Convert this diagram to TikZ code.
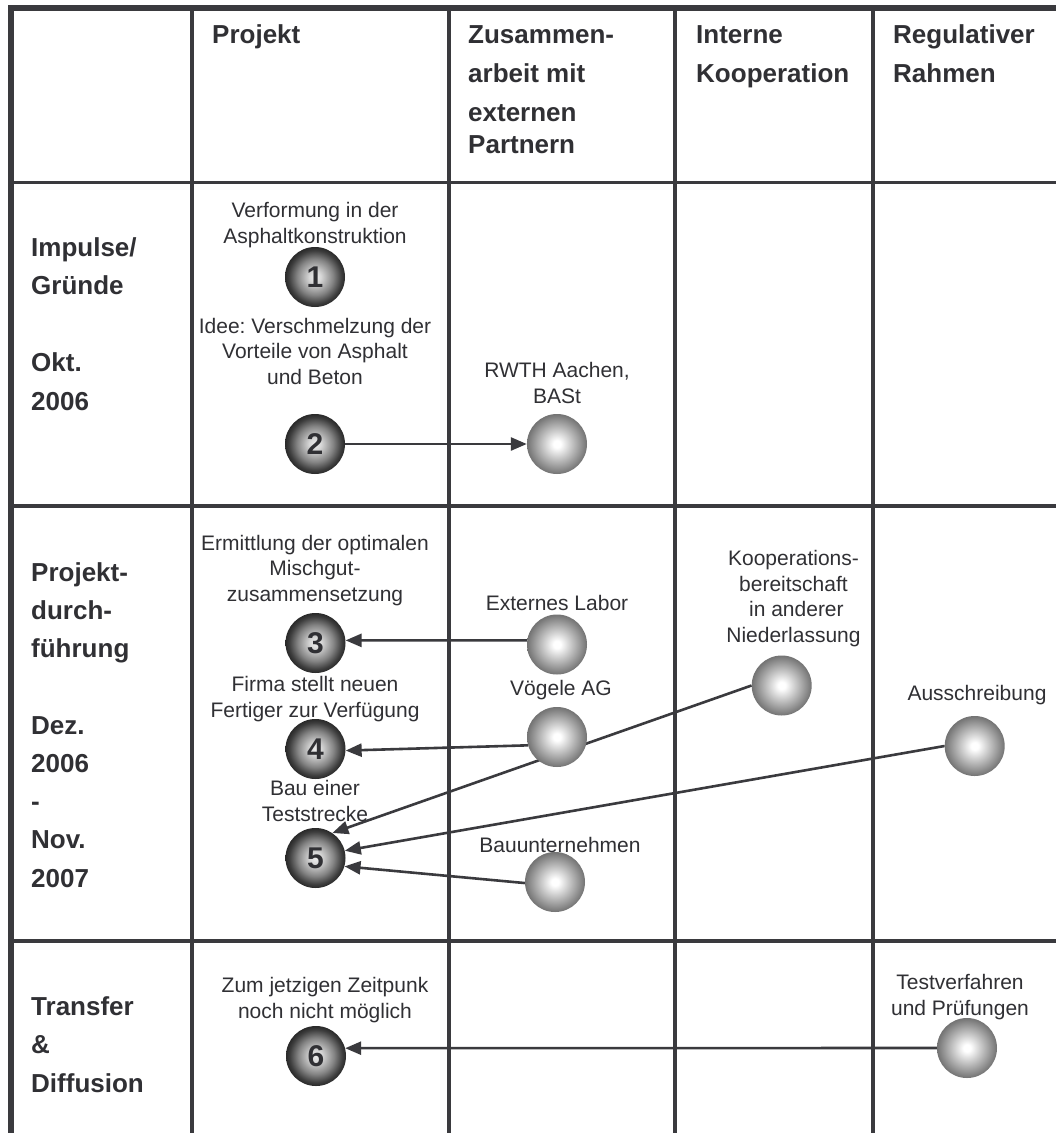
\documentclass[tikz,border=0pt]{standalone}
\usepackage{fontspec}
\setmainfont{Liberation Sans}
\frenchspacing
\usetikzlibrary{arrows.meta}
\definecolor{ink}{RGB}{58,58,62}
\definecolor{txt}{RGB}{48,48,52}
% shaded spheres: dark numbered steps and light actor balls (rim at 25bp)
\pgfdeclareradialshading{darkball}{\pgfpoint{0bp}{0bp}}{color(0bp)=(black!7); color(5bp)=(black!16); color(15bp)=(black!48); color(22bp)=(black!76); color(25bp)=(black!84); color(50bp)=(black!84)}
\pgfdeclareradialshading{lightball}{\pgfpoint{0bp}{0bp}}{color(0bp)=(white); color(3bp)=(white); color(25bp)=(black!55); color(50bp)=(black!55)}
\pgfdeclarelayer{under}
\pgfsetlayers{under,main}
\begin{document}
\begin{tikzpicture}[x=1pt,y=-1pt,
  frame/.style={draw=ink, line width=6pt, line join=miter},
  grid/.style={draw=ink, line width=3.2pt},
  hdr/.style={font=\fontsize{26}{39}\selectfont\bfseries, text=txt, align=left, inner sep=0pt, anchor=base west},
  rowlab/.style={font=\fontsize{26}{38.5}\selectfont\bfseries, text=txt, align=left, inner sep=0pt, anchor=base west},
  lbl/.style={font=\fontsize{21}{25.5}\selectfont, text=txt, align=center, inner sep=0pt, anchor=base},
  numball/.style={circle, minimum size=60pt, inner sep=0pt, shade, shading=darkball, font=\fontsize{30}{30}\selectfont\bfseries, text=txt},
  ball/.style={circle, minimum size=60pt, inner sep=0pt, shade, shading=lightball},
  link/.style={draw=ink, line width=2.6pt, -{Triangle[length=16pt,width=13pt]}}]

\useasboundingbox (0,0) rectangle (1056,1133);

% table frame and grid
\begin{pgfonlayer}{under}
  \fill[white] (0,0) rectangle (1056,1133);
  \draw[frame] (11,1133) -- (11,8) -- (1056,8);
  \foreach \gx in {192,449,675,873} \draw[grid] (\gx,8) -- (\gx,1133);
  \foreach \gy in {182.5,506,941} \draw[grid] (11,\gy) -- (1056,\gy);
\end{pgfonlayer}

% column headers (positions give the baseline of the last line)
\node[hdr] (hproj) at (212,43) {Projekt};
\node[hdr] (hext) at (468,153) {Zusammen-\\arbeit mit\\externen\\[-7pt]Partnern};
\node[hdr] (hint) at (696,82) {Interne\\Kooperation};
\node[hdr] (hreg) at (893,82) {Regulativer\\Rahmen};

% row headers
\node[rowlab] (rimp) at (31,410) {Impulse/\\Gründe\\[38.5pt]Okt.\\2006};
\node[rowlab, font=\fontsize{26}{38.2}\selectfont\bfseries] (rdur) at (31,887) {Projekt-\\durch-\\führung\\[38.2pt]Dez.\\2006\\-\\Nov.\\2007};
\node[rowlab] (rtra) at (31,1092) {Transfer\\\&\\Diffusion};

% step texts
\node[lbl] (t1) at (315,243) {Verformung in der\\Asphaltkonstruktion};
\node[lbl] (t2) at (315,384) {Idee: Verschmelzung der\\Vorteile von Asphalt\\und Beton};
\node[lbl] (t3) at (557,403) {RWTH Aachen,\\BASt};
\node[lbl] (t4) at (315,601) {Ermittlung der optimalen\\Mischgut-\\zusammensetzung};
\node[lbl] (t5) at (557,610) {Externes Labor};
\node[lbl] (t6) at (315,717) {Firma stellt neuen\\Fertiger zur Verfügung};
\node[lbl] (t7) at (561,695) {Vögele AG};
\node[lbl] (t8) at (315,821) {Bau einer\\Teststrecke};
\node[lbl] (t9) at (560,852) {Bauunternehmen};
\node[lbl] (t10) at (793.5,642) {Kooperations-\\bereitschaft\\\ in anderer\\Niederlassung};
\node[lbl] (t11) at (977,700) {Ausschreibung};
\node[lbl] (t12) at (325,1018) {Zum jetzigen Zeitpunk\\noch nicht möglich};
\node[lbl] (t13) at (960,1015) {Testverfahren\\und Prüfungen};

% numbered steps
\node[numball] (n1) at (315,277) {1};
\node[numball] (n2) at (315,444) {2};
\node[numball] (n3) at (315.5,643) {3};
\node[numball] (n4) at (315.5,749) {4};
\node[numball] (n5) at (315.5,858) {5};
\node[numball] (n6) at (316,1056) {6};

% actors
\node[ball] (rwth) at (557,444) {};
\node[ball] (lab) at (557,644.5) {};
\node[ball] (voe) at (557,737) {};
\node[ball] (bau) at (555,882) {};
\node[ball] (koop) at (781.7,685.5) {};
\node[ball] (aus) at (974.7,746) {};
\node[ball] (test) at (967,1048) {};

% influences
\begin{pgfonlayer}{under}
  \draw[link] (n2) -- (rwth);
  \draw[link] (lab.172) -- (n3.5);
  \draw[link] (voe.196) -- (n4.-3);
  \draw[link] (koop.180) -- (n5.56);
  \draw[link] (aus.180) -- (n5.14);
  \draw[link] (bau.182) -- (n5.-16);
  \draw[link] (test.180) -- (n6.15);
\end{pgfonlayer}
\end{tikzpicture}
\end{document}
